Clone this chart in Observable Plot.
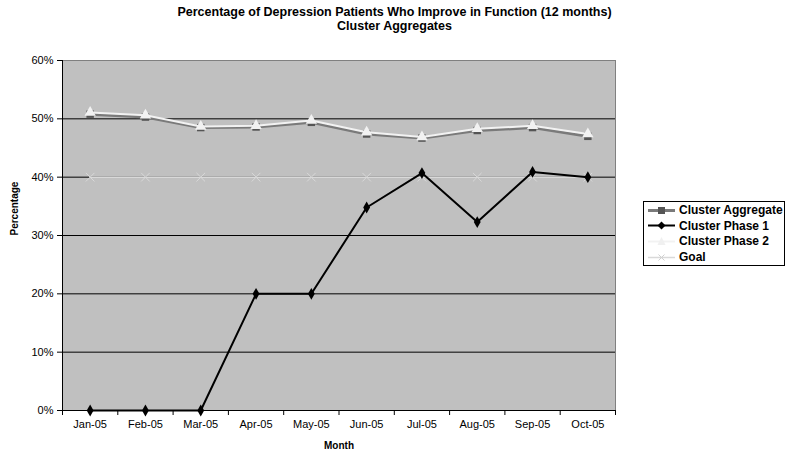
<!DOCTYPE html>
<html>
<head>
<meta charset="utf-8">
<script src="https://cdn.jsdelivr.net/npm/d3@7"></script>
<script src="https://cdn.jsdelivr.net/npm/@observablehq/plot@0.6"></script>
<style>
  html, body { margin: 0; padding: 0; background: #fff; }
  #wrap { position: relative; width: 789px; height: 454px; font-family: "Liberation Sans", Arial, sans-serif; }
  .title { position: absolute; left: 0; width: 789px; text-align: center; font-weight: bold; font-size: 12.5px; color: #000; }
  #legend { position: absolute; left: 643px; top: 201px; width: 142px; height: 65px; border: 1px solid #000; background: #fff; box-sizing: border-box; }
  .li { position: absolute; left: 4px; height: 16px; display: flex; align-items: center; font-weight: bold; font-size: 12px; white-space: nowrap; }
  .li svg { margin-right: 3px; }
</style>
</head>
<body>
<div id="wrap">
  <div class="title" style="top:5px">Percentage of Depression Patients Who Improve in Function (12 months)</div>
  <div class="title" style="top:19px">Cluster Aggregates</div>
  <div id="chart"></div>
  <div id="legend"></div>
</div>
<script>
const months = ["Jan-05","Feb-05","Mar-05","Apr-05","May-05","Jun-05","Jul-05","Aug-05","Sep-05","Oct-05"];
const clusterAggregate = [0.508, 0.503, 0.485, 0.486, 0.494, 0.474, 0.467, 0.480, 0.485, 0.470];
const clusterPhase1    = [0.000, 0.000, 0.000, 0.200, 0.200, 0.348, 0.407, 0.323, 0.409, 0.400];
const clusterPhase2    = [0.511, 0.506, 0.487, 0.488, 0.497, 0.477, 0.469, 0.483, 0.488, 0.474];
const goal             = [0.40, 0.40, 0.40, 0.40, 0.40, 0.40, 0.40, 0.40, 0.40, 0.40];
const yTicks = [0, 0.1, 0.2, 0.3, 0.4, 0.5, 0.6];
const gridLines = [0.1, 0.2, 0.3, 0.4, 0.5];

const series = [
  {name: "Cluster Aggregate", values: clusterAggregate, stroke: "#7a7a7a", width: 3, symbol: "square", fill: "#555555"},
  {name: "Cluster Phase 1", values: clusterPhase1, stroke: "#000000", width: 2, symbol: "diamond", fill: "#000000"},
  {name: "Cluster Phase 2", values: clusterPhase2, stroke: "#f2f2f2", width: 2, symbol: "triangle", fill: "#f2f2f2"},
  {name: "Goal", values: goal, stroke: "#d9d9d9", width: 1.5, symbol: "times", fill: "none"}
];
const rows = s => s.values.map((v, i) => ({x: i + 0.5, y: v, name: s.name}));
const [agg, p1, p2, gl] = series;

const chart = Plot.plot({
  width: 789, height: 454,
  marginLeft: 62, marginRight: 174, marginTop: 60, marginBottom: 44,
  style: {fontFamily: "'Liberation Sans', Arial, sans-serif", fontSize: "11px", color: "#000", background: "transparent"},
  x: {domain: [0, 10], axis: null},
  y: {domain: [0, 0.6], axis: null},
  marks: [
    Plot.frame({fill: "#c0c0c0", stroke: "#808080", strokeWidth: 1}),
    Plot.ruleY(gridLines, {stroke: "#000", strokeWidth: 1}),
    Plot.ruleY([0], {stroke: "#000", strokeWidth: 1}),
    Plot.ruleX([0], {stroke: "#000", strokeWidth: 1}),
    Plot.axisY({ticks: yTicks, tickFormat: d3.format(".0%"), tickSize: 5, tickPadding: 4, stroke: "#000", fontSize: 11, label: null}),
    Plot.axisX({ticks: d3.range(0, 11), tickFormat: () => "", tickSize: 5, stroke: "#000", label: null}),
    Plot.axisX({ticks: months.map((m, i) => i + 0.5), tickFormat: d => months[Math.round(d - 0.5)], tickSize: 0, tickPadding: 10, fontSize: 11, label: null}),
    Plot.text(["Month"], {frameAnchor: "bottom", dy: 38, fontWeight: "bold", fontSize: 10}),
    Plot.text(["Percentage"], {frameAnchor: "left", dx: -48, rotate: -90, fontWeight: "bold", fontSize: 10}),
    // Goal
    Plot.line(rows(gl), {x: "x", y: "y", stroke: gl.stroke, strokeWidth: gl.width}),
    Plot.dot(rows(gl), {x: "x", y: "y", symbol: "times", stroke: gl.stroke, r: 4, strokeWidth: 1}),
    // Cluster Aggregate
    Plot.line(rows(agg), {x: "x", y: "y", stroke: agg.stroke, strokeWidth: agg.width}),
    Plot.dot(rows(agg), {x: "x", y: "y", symbol: "square", fill: agg.fill, r: 4.2}),
    // Cluster Phase 2
    Plot.line(rows(p2), {x: "x", y: "y", stroke: p2.stroke, strokeWidth: p2.width}),
    Plot.dot(rows(p2), {x: "x", y: "y", symbol: "triangle", fill: p2.fill, r: 4.2}),
    // Cluster Phase 1
    Plot.line(rows(p1), {x: "x", y: "y", stroke: p1.stroke, strokeWidth: p1.width}),
    Plot.dot(rows(p1), {x: "x", y: "y", symbol: "diamond", fill: p1.fill, r: 3.6})
  ]
});
document.getElementById("chart").appendChild(chart);

// Legend
const legend = document.getElementById("legend");
const sym = {
  square: '<rect x="10" y="4" width="7" height="7" fill="#555"/>',
  diamond: '<path d="M13.5 3.5 L17.5 7.5 L13.5 11.5 L9.5 7.5 Z" fill="#000"/>',
  triangle: '<path d="M13.5 3 L17.5 11 L9.5 11 Z" fill="#f0f0f0"/>',
  times: '<path d="M10.5 4.5 L16.5 10.5 M16.5 4.5 L10.5 10.5" stroke="#d0d0d0" stroke-width="1"/>'
};
series.forEach((s, i) => {
  const d = document.createElement("div");
  d.className = "li";
  d.style.top = (0 + i * 15.7) + "px";
  d.innerHTML = `<svg width="28" height="15"><line x1="0" x2="27" y1="7.5" y2="7.5" stroke="${s.stroke}" stroke-width="${s.width}"/>${sym[s.symbol]}</svg><span>${s.name}</span>`;
  legend.appendChild(d);
});
</script>
</body>
</html>
